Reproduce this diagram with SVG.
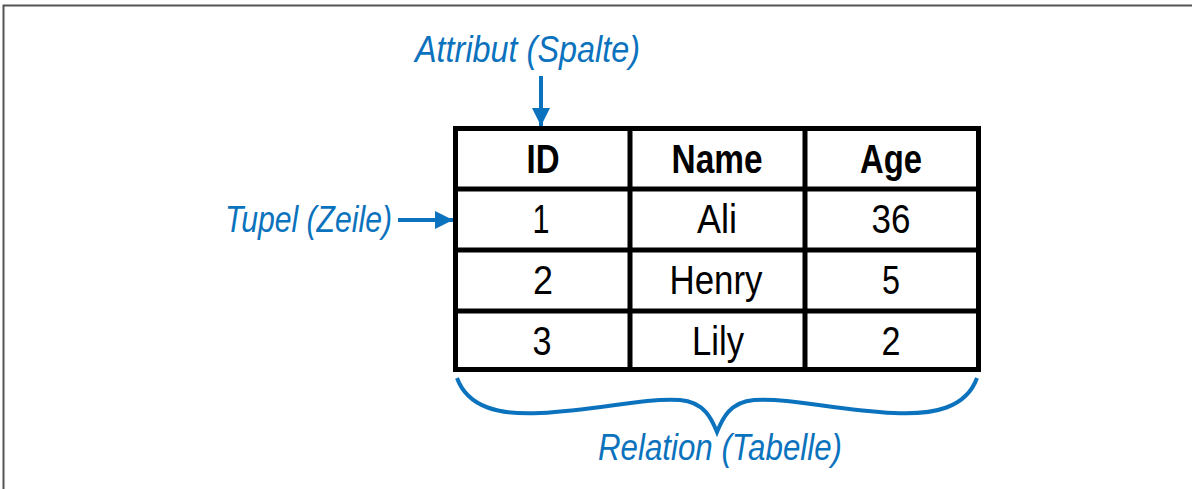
<svg xmlns="http://www.w3.org/2000/svg" width="1192" height="489" viewBox="0 0 1192 489">
<style>
.cell{fill:#fff;stroke:#000;stroke-width:5}
.grid{stroke:#000;stroke-width:5;fill:none}
.hd{font-family:"Liberation Sans Narrow","Liberation Sans",sans-serif;font-size:40px;font-weight:600;fill:#000;text-anchor:middle}
.td{font-family:"Liberation Sans Narrow","Liberation Sans",sans-serif;font-size:40px;fill:#000;text-anchor:middle}
.lbl{font-family:"Liberation Sans Narrow","Liberation Sans",sans-serif;font-style:italic;font-size:36px;fill:#0b72bd}
.conn{stroke:#0b72bd;stroke-width:4;fill:none}
</style>
<defs>
<marker id="ah" viewBox="0 0 10 10" refX="10" refY="5" markerWidth="5.5" markerHeight="4.5" markerUnits="strokeWidth" orient="auto">
<path d="M0,0 L10,5 L0,10 z" fill="#0b72bd"/>
</marker>
</defs>
<rect x="0" y="0" width="1192" height="489" fill="#fff"/>
<path d="M3.5,489 V5.5 H1192" fill="none" stroke="#555" stroke-width="2"/>
<g id="table">
<rect class="cell" x="455.5" y="128.5" width="523" height="241"/>
<line class="grid" x1="630" y1="128" x2="630" y2="370"/>
<line class="grid" x1="805" y1="128" x2="805" y2="370"/>
<line class="grid" x1="455" y1="189" x2="979" y2="189"/>
<line class="grid" x1="455" y1="250" x2="979" y2="250"/>
<line class="grid" x1="455" y1="311" x2="979" y2="311"/>
<text class="hd" x="543" y="173" textLength="33" lengthAdjust="spacingAndGlyphs">ID</text>
<text class="hd" x="717" y="173" textLength="91" lengthAdjust="spacingAndGlyphs">Name</text>
<text class="hd" x="891" y="173" textLength="62" lengthAdjust="spacingAndGlyphs">Age</text>
<text class="td" x="541" y="233" textLength="17" lengthAdjust="spacingAndGlyphs">1</text>
<text class="td" x="717" y="233" textLength="40" lengthAdjust="spacingAndGlyphs">Ali</text>
<text class="td" x="891" y="233" textLength="39" lengthAdjust="spacingAndGlyphs">36</text>
<text class="td" x="543" y="294" textLength="20" lengthAdjust="spacingAndGlyphs">2</text>
<text class="td" x="716" y="294" textLength="93" lengthAdjust="spacingAndGlyphs">Henry</text>
<text class="td" x="891" y="294" textLength="18" lengthAdjust="spacingAndGlyphs">5</text>
<text class="td" x="542" y="355" textLength="19" lengthAdjust="spacingAndGlyphs">3</text>
<text class="td" x="718" y="355" textLength="52" lengthAdjust="spacingAndGlyphs">Lily</text>
<text class="td" x="891" y="355" textLength="19" lengthAdjust="spacingAndGlyphs">2</text>
</g>
<g id="attribut"><text class="lbl" x="415" y="62" textLength="225" lengthAdjust="spacingAndGlyphs">Attribut (Spalte)</text></g>
<g id="tupel"><text class="lbl" x="225" y="232" textLength="167" lengthAdjust="spacingAndGlyphs">Tupel (Zeile)</text></g>
<g id="relation"><text class="lbl" x="598" y="460" textLength="244" lengthAdjust="spacingAndGlyphs">Relation (Tabelle)</text></g>
<g id="connectors">
<line class="conn" x1="541" y1="76" x2="541" y2="126" marker-end="url(#ah)"/>
<line class="conn" x1="398" y1="220" x2="453" y2="220" marker-end="url(#ah)"/>
<path class="conn" d="M457,378 C468,408 500,415 540,413 C600,410 640,398 680,400 C705,402 712,420 717,432 C722,420 729,402 754,400 C794,398 834,410 894,413 C934,415 966,408 977,378"/>
</g>
</svg>
